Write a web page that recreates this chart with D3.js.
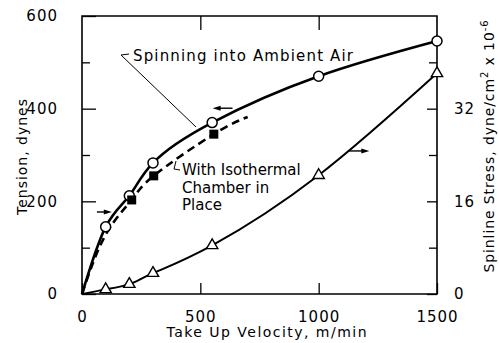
<!DOCTYPE html>
<html>
<head>
<meta charset="utf-8">
<script src="https://cdn.jsdelivr.net/npm/d3@7"></script>
<style>
  html, body { margin: 0; padding: 0; background: #fff; }
  svg { display: block; }
  text { font-family: "DejaVu Sans", "Liberation Sans", sans-serif; fill: #000; }
</style>
</head>
<body>
<svg id="chart" width="499" height="343"></svg>
<script>
// Take-up velocity (m/min) at which each run was measured
const ambientVelocity = [0, 100, 200, 300, 550, 1000, 1500];
// Threadline tension when spinning into ambient air (dynes)
const ambientTension = [0, 145, 212, 283, 370, 470, 546];

// Runs with the isothermal chamber in place
const chamberVelocity = [210, 303, 557];
const chamberTension = [203, 255, 345];
// Dashed fit through the chamber runs (starts at origin, ends beyond last run)
const chamberCurveVelocity = [0, 100, 210, 303, 557, 700];
const chamberCurveTension = [0, 128, 203, 255, 345, 382];

// Spinline stress, dyne/cm^2 x 10^-6 (right axis)
const stressVelocity = [0, 100, 200, 300, 550, 1000, 1500];
const stressValues = [0, 0.8, 1.7, 3.6, 8.4, 20.5, 38.1];

// Axis ticks
const xMajorTicks = [0, 500, 1000, 1500];
const xTopTicks = [500, 1000];
const yLeftMajor = [0, 200, 400, 600];
const yLeftMinor = [100, 300, 500];
const yRightMajor = [0, 16, 32];
const yRightMinor = [8, 24, 40];

// Arrows telling which axis a curve is read against
const arrowTail = [[636, 401], [63, 177], [1129, 24.7]];
const arrowHead = [[552, 401], [126, 177], [1214, 24.7]];
const arrowAxis = ["left", "left", "right"];

const svg = d3.select("#chart");
const margin = { left: 82, right: 62, top: 16, bottom: 49 };
const W = 499, H = 343;

const x = d3.scaleLinear().domain([0, 1500]).range([margin.left, W - margin.right]);
const yL = d3.scaleLinear().domain([0, 600]).range([H - margin.bottom, margin.top]);
const yR = d3.scaleLinear().domain([0, 48]).range([H - margin.bottom, margin.top]);

const x0 = x(0), x1 = x(1500), yb = yL(0), yt = yL(600);

// Frame
const g = svg.append("g");
g.append("path")
  .attr("d", `M${x0},${yt}H${x1}V${yb}H${x0}Z`)
  .attr("fill", "none").attr("stroke", "#000").attr("stroke-width", 1.6);

// Axes with inward ticks
const axisLeft = d3.axisLeft(yL).tickValues(yLeftMajor).tickSize(-14).tickPadding(24).tickFormat(d3.format("d"));
const axisLeftMinor = d3.axisLeft(yL).tickValues(yLeftMinor).tickSize(-8).tickFormat("");
const axisRight = d3.axisRight(yR).tickValues(yRightMajor).tickSize(-10).tickPadding(17).tickFormat(d3.format("d"));
const axisRightMinor = d3.axisRight(yR).tickValues(yRightMinor).tickSize(-8).tickFormat("");
const axisBottom = d3.axisBottom(x).tickValues(xMajorTicks).tickSize(-11).tickPadding(17).tickFormat(d3.format("d"));
const axisTop = d3.axisTop(x).tickValues(xTopTicks).tickSize(-14).tickFormat("");

function styleAxis(sel) {
  sel.select(".domain").remove();
  sel.selectAll(".tick line").attr("stroke", "#000").attr("stroke-width", 1.3);
  sel.selectAll(".tick text").style("font-size", "15px").style("letter-spacing", "1px");
}

g.append("g").attr("transform", `translate(${x0},0)`).call(axisLeft).call(styleAxis);
g.append("g").attr("transform", `translate(${x0},0)`).call(axisLeftMinor).call(styleAxis);
g.append("g").attr("transform", `translate(${x1},0)`).call(axisRight).call(styleAxis);
g.append("g").attr("transform", `translate(${x1},0)`).call(axisRightMinor).call(styleAxis);
g.append("g").attr("transform", `translate(0,${yb})`).call(axisBottom).call(styleAxis);
g.append("g").attr("transform", `translate(0,${yt})`).call(axisTop).call(styleAxis);

// Axis titles
svg.append("text")
  .attr("transform", `translate(${(x0 + x1) / 2 + 7},337)`)
  .attr("text-anchor", "middle").style("font-size", "14px")
  .attr("textLength", 200).attr("lengthAdjust", "spacing")
  .text("Take Up Velocity, m/min");

svg.append("text")
  .attr("transform", "translate(27,157) rotate(-90)")
  .attr("text-anchor", "middle").style("font-size", "14px")
  .attr("textLength", 116).attr("lengthAdjust", "spacing")
  .text("Tension, dynes");

const rt = svg.append("text")
  .attr("transform", "translate(494,146) rotate(-90)")
  .attr("text-anchor", "middle").style("font-size", "14px").style("letter-spacing", "0.9px");
rt.append("tspan").text("Spinline Stress, dyne/cm");
rt.append("tspan").attr("dy", -6).style("font-size", "10px").text("2");
rt.append("tspan").attr("dy", 6).text(" x 10");
rt.append("tspan").attr("dy", -6).style("font-size", "10px").text("-6");

// Curves: smooth splines through the measured points
const curve = d3.curveNatural;
const lineL = d3.line().x(d => x(d[0])).y(d => yL(d[1])).curve(curve);
const lineR = d3.line().x(d => x(d[0])).y(d => yR(d[1])).curve(curve);

g.append("path")
  .datum(d3.zip(ambientVelocity, ambientTension))
  .attr("d", lineL).attr("fill", "none").attr("stroke", "#000").attr("stroke-width", 2.6);

g.append("path")
  .datum(d3.zip(chamberCurveVelocity, chamberCurveTension))
  .attr("d", lineL).attr("fill", "none").attr("stroke", "#000").attr("stroke-width", 2.6)
  .attr("stroke-dasharray", "8,5");

g.append("path")
  .datum(d3.zip(stressVelocity, stressValues))
  .attr("d", lineR).attr("fill", "none").attr("stroke", "#000").attr("stroke-width", 2);

// Markers
g.selectAll(".circ").data(d3.zip(ambientVelocity, ambientTension).slice(1)).join("circle")
  .attr("cx", d => x(d[0])).attr("cy", d => yL(d[1])).attr("r", 5)
  .attr("fill", "#fff").attr("stroke", "#000").attr("stroke-width", 1.5);

g.selectAll(".sq").data(d3.zip(chamberVelocity, chamberTension)).join("rect")
  .attr("x", d => x(d[0]) - 4.5).attr("y", d => yL(d[1]) - 4.5)
  .attr("width", 9).attr("height", 9).attr("fill", "#000");

const tri = d3.symbol().type(d3.symbolTriangle).size(55);
g.selectAll(".tri").data(d3.zip(stressVelocity, stressValues).slice(1)).join("path")
  .attr("transform", d => `translate(${x(d[0])},${yR(d[1])})`)
  .attr("d", tri).attr("fill", "#fff").attr("stroke", "#000").attr("stroke-width", 1.4);

// Axis arrows
arrowTail.forEach((t, i) => {
  const ys = arrowAxis[i] === "left" ? yL : yR;
  const h = arrowHead[i];
  const tx = x(t[0]), ty = ys(t[1]), hx = x(h[0]), hy = ys(h[1]);
  const dir = Math.sign(hx - tx);
  g.append("line").attr("x1", tx).attr("y1", ty).attr("x2", hx - dir * 4).attr("y2", hy)
    .attr("stroke", "#000").attr("stroke-width", 1.4);
  g.append("path")
    .attr("d", `M${hx},${hy}L${hx - dir * 8},${hy - 2.5}L${hx - dir * 8},${hy + 2.5}Z`)
    .attr("fill", "#000");
});

// Annotations
svg.append("text").attr("x", 133).attr("y", 61).style("font-size", "15px")
  .attr("textLength", 220).attr("lengthAdjust", "spacing")
  .text("Spinning into Ambient Air");
svg.append("path").attr("d", "M129,54L121,55L196,127")
  .attr("fill", "none").attr("stroke", "#000").attr("stroke-width", 1);

const iso = svg.append("text").style("font-size", "15px");
iso.append("tspan").attr("x", 182).attr("y", 175).text("With Isothermal");
iso.append("tspan").attr("x", 182).attr("y", 193).text("Chamber in");
iso.append("tspan").attr("x", 182).attr("y", 210).text("Place");
svg.append("path").attr("d", "M176,161L174,169L180,170")
  .attr("fill", "none").attr("stroke", "#000").attr("stroke-width", 1);
</script>
</body>
</html>
